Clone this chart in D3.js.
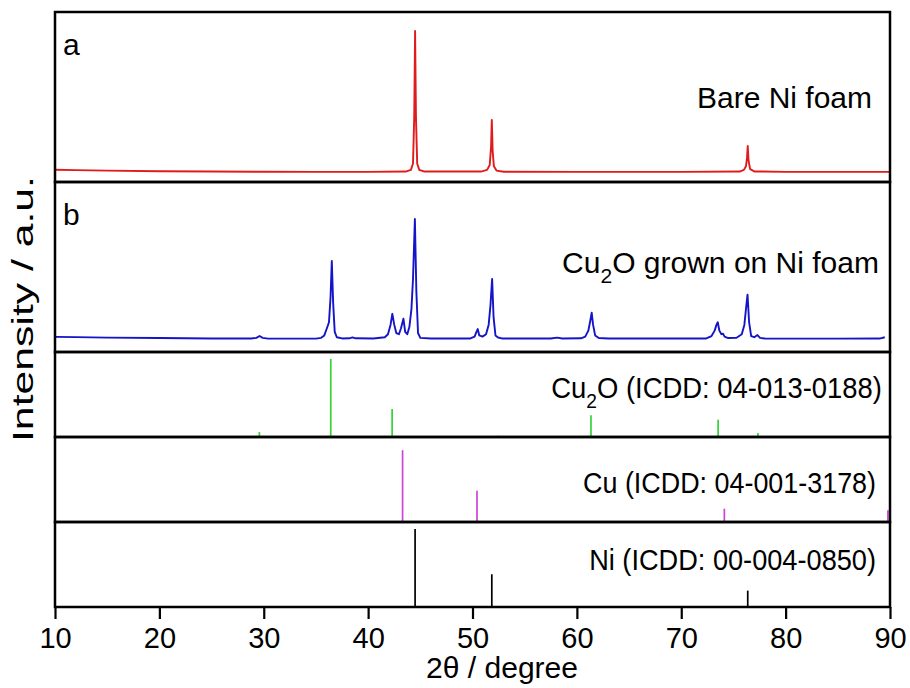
<!DOCTYPE html>
<html>
<head>
<meta charset="utf-8">
<script src="https://cdn.jsdelivr.net/npm/d3@7"></script>
<style>
  body { margin: 0; background: #fff; }
  text { font-family: "Liberation Sans", Arial, sans-serif; fill: #000; }
</style>
</head>
<body>
<div id="chart"></div>
<script>
// XRD patterns: bare Ni foam, Cu2O on Ni foam, and reference cards
var width = 910, height = 688;
var margin = {top: 12, left: 55, right: 20};

// measured patterns, [2theta, intensity (a.u., strongest peak = 100)]
var bareNi = [
  [10, 1.6], [12, 1.3], [15, 1.0], [20, 0.5], [25, 0.3], [30, 0.2], [35, 0.1], [40, 0.1],
  [43.6, 0.3], [44.1, 1.5], [44.3, 6], [44.42, 40], [44.5, 100], [44.58, 40], [44.7, 6], [44.9, 1.5], [45.4, 0.3],
  [50.8, 0.3], [51.4, 1.5], [51.65, 5], [51.78, 18], [51.85, 37], [51.93, 15], [52.05, 4], [52.3, 1], [53, 0.2],
  [60, 0.1], [70, 0.1], [75.6, 0.3], [76.0, 1.5], [76.2, 4], [76.3, 10], [76.37, 18.4], [76.45, 8], [76.6, 2],
  [77, 0.4], [80, 0.1], [90, 0.1]
];

var cu2oOnNi = [
  [10, 1.8], [12, 1.6], [15, 1.2], [20, 0.8], [25, 0.5], [28.8, 0.4], [29.3, 1.0], [29.6, 2.5], [29.9, 1.0], [30.4, 0.3],
  [35.0, 0.3], [35.5, 1], [35.8, 3], [36.05, 9], [36.25, 14], [36.4, 35], [36.52, 65], [36.65, 30], [36.8, 6], [37.0, 1.5],
  [37.5, 0.5], [38.2, 0.6], [38.5, 1.4], [38.8, 0.6], [40.5, 0.4], [41.6, 1.5], [41.9, 4], [42.15, 12], [42.32, 21],
  [42.5, 12], [42.7, 5], [42.95, 4], [43.15, 9], [43.38, 17], [43.55, 6], [43.75, 4], [43.95, 10], [44.15, 25], [44.3, 50],
  [44.48, 100], [44.62, 40], [44.78, 5], [45.0, 1], [46, 0.4], [49.8, 0.5], [50.2, 2], [50.38, 6], [50.5, 8.3], [50.65, 3],
  [50.95, 2], [51.3, 4], [51.55, 12], [51.72, 28], [51.88, 50], [52.02, 18], [52.2, 3], [52.45, 1.3], [52.8, 0.5],
  [57.5, 0.4], [58.1, 1.2], [58.6, 0.4], [60.4, 0.6], [60.8, 2], [61.1, 7], [61.28, 15], [61.42, 22], [61.55, 12],
  [61.75, 3], [62.1, 0.8], [63, 0.4], [72.4, 0.5], [72.9, 2.5], [73.2, 7], [73.38, 12], [73.5, 14], [73.65, 7],
  [73.85, 4], [74.0, 4.5], [74.15, 2], [74.5, 0.8], [75.3, 1], [75.8, 4], [76.05, 12], [76.2, 25], [76.35, 37],
  [76.5, 14], [76.7, 2.5], [77.0, 1.5], [77.3, 3.3], [77.55, 1], [78, 0.4], [85, 0.3], [89, 0.4], [89.5, 1.5]
];

// reference cards, [2theta, relative intensity]
var cu2oCard = [[29.58, 6.4], [36.42, 100], [42.3, 36], [52.45, 1.5], [61.35, 28], [73.53, 22], [77.35, 5]];
var cuCard   = [[43.3, 92], [50.43, 40], [74.13, 17], [89.8, 15]];
var niCard   = [[44.5, 100], [51.85, 42], [76.37, 21]];

var xTicks = [10, 20, 30, 40, 50, 60, 70, 80, 90];

var svg = d3.select("#chart").append("svg")
    .attr("width", width)
    .attr("height", height);

var x = d3.scaleLinear()
    .domain([10, 90])
    .range([margin.left, width - margin.right]);

// squeeze/stretch a text horizontally so it spans [x0, x1], anchored right
function fitText(t, x0, x1, y) {
  var w = t.node().getBBox().width;
  t.attr("transform", "translate(" + x1 + "," + y + ") scale(" + ((x1 - x0) / w) + ",1)");
}

// panel layout (top, bottom in px) and the y range each one shows
var panels = [
  {top: 12,  bottom: 182, ydom: [-7.1, 113.5], data: bareNi,   kind: "line",  color: "#e01b1b", label: "a", name: ["Bare Ni foam"], nameY: 108, nx: [697, 872]},
  {top: 182, bottom: 352, ydom: [-10.8, 130.8], data: cu2oOnNi, kind: "line", color: "#1414c8", label: "b", name: ["Cu", "2", "O grown on Ni foam"], nameY: 273, nx: [562, 879]},
  {top: 352, bottom: 437, ydom: [0, 109], data: cu2oCard, kind: "stick", color: "#35d335", name: ["Cu", "2", "O (ICDD: 04-013-0188)"], nameY: 398, nx: [551, 882]},
  {top: 437, bottom: 522, ydom: [0, 109], data: cuCard,   kind: "stick", color: "#cc44d4", name: ["Cu (ICDD: 04-001-3178)"], nameY: 493, nx: [583, 876]},
  {top: 522, bottom: 607, ydom: [0, 109], data: niCard,   kind: "stick", color: "#000000", name: ["Ni (ICDD: 00-004-0850)"], nameY: 570, nx: [589, 876]}
];

panels.forEach(function(p, i) {
  var y = d3.scaleLinear().domain(p.ydom).range([p.bottom, p.top]);
  var g = svg.append("g");

  if (p.kind == "line") {
    var line = d3.line()
        .x(function(d) { return x(d[0]); })
        .y(function(d) { return y(d[1]); });
    g.append("path")
        .datum(p.data)
        .attr("d", line)
        .attr("fill", "none")
        .attr("stroke", p.color)
        .attr("stroke-width", 1.9)
        .attr("stroke-linejoin", "round");
  } else {
    g.selectAll("line")
        .data(p.data)
      .enter().append("line")
        .attr("x1", function(d) { return x(d[0]); })
        .attr("x2", function(d) { return x(d[0]); })
        .attr("y1", y(0))
        .attr("y2", function(d) { return y(d[1]); })
        .attr("stroke", p.color)
        .attr("stroke-width", 1.7);
  }

  // frame
  g.append("rect")
      .attr("x", x(10))
      .attr("y", p.top)
      .attr("width", x(90) - x(10))
      .attr("height", p.bottom - p.top)
      .attr("fill", "none")
      .attr("stroke", "#000")
      .attr("stroke-width", 2.5);

  if (p.label) {
    g.append("text")
        .attr("x", 63)
        .attr("y", p.top + 43)
        .attr("font-size", 30)
        .text(p.label);
  }

  var t = g.append("text")
      .attr("text-anchor", "end")
      .attr("font-size", 30);
  if (p.name.length == 1) {
    t.text(p.name[0]);
  } else {
    t.append("tspan").text(p.name[0]);
    t.append("tspan").attr("font-size", 21).attr("dy", 10).text(p.name[1]);
    t.append("tspan").attr("dy", -10).text(p.name[2]);
  }
  fitText(t, p.nx[0], p.nx[1], p.nameY);
});

// bottom axis
var xAxis = d3.axisBottom(x)
    .tickValues(xTicks)
    .tickSize(12)
    .tickPadding(8)
    .tickFormat(d3.format("d"));

var ax = svg.append("g")
    .attr("transform", "translate(0,607)")
    .call(xAxis);
ax.select(".domain").remove();
ax.selectAll("line").attr("stroke-width", 2.2);
ax.selectAll("text")
    .attr("font-size", 29)
    .style("font-family", "'Liberation Sans', Arial, sans-serif");

var xt = svg.append("text")
    .attr("text-anchor", "end")
    .attr("font-size", 29)
    .text("2\u03b8 / degree");
fitText(xt, 426, 578, 678);

svg.append("text")
    .attr("transform", "translate(33,309) rotate(-90)")
    .attr("text-anchor", "middle")
    .attr("font-size", 29)
    .attr("textLength", 266)
    .attr("lengthAdjust", "spacingAndGlyphs")
    .text("Intensity / a.u.");
</script>
</body>
</html>
